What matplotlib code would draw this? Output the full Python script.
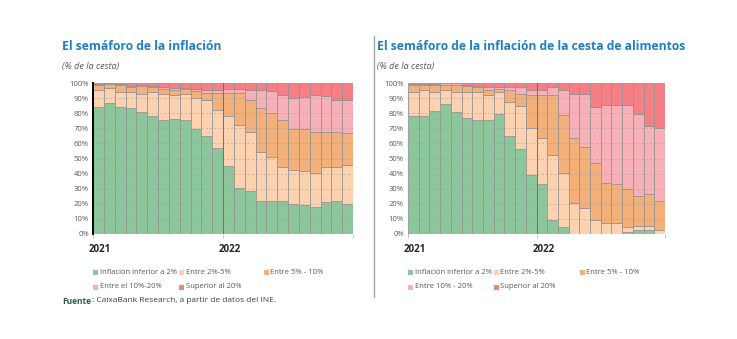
import matplotlib
matplotlib.use("Agg")
import matplotlib.pyplot as plt
import numpy as np

months = list(range(24))  # Jan 2021 .. Dec 2022

# Cumulative tops (% of basket) - General basket
gen_lt2   = [84.1, 86.7, 84.0, 83.2, 80.8, 78.1, 75.7, 76.1, 75.2, 69.5, 65.0, 56.9,
             44.9, 30.3, 28.3, 22.1, 22.1, 22.1, 19.9, 19.0, 17.7, 21.0, 22.1, 19.9]
gen_2_5   = [95.6, 96.7, 93.8, 94.2, 92.9, 93.8, 92.9, 91.8, 92.9, 89.8, 88.5, 81.9,
             77.9, 72.1, 67.5, 54.6, 51.3, 44.7, 42.5, 41.4, 40.7, 44.7, 44.7, 45.8]
gen_5_10  = [98.7, 99.1, 98.7, 97.3, 97.8, 97.1, 96.0, 95.6, 96.0, 94.7, 93.4, 93.4,
             93.4, 93.4, 88.5, 83.4, 80.1, 75.7, 69.5, 69.5, 67.5, 67.5, 67.5, 66.8]
gen_10_20 = [99.6, 99.8, 99.1, 98.0, 98.5, 98.0, 97.6, 96.9, 96.5, 96.0, 95.6, 95.6,
             96.0, 96.0, 95.6, 95.1, 94.5, 92.0, 90.3, 90.7, 92.0, 91.2, 88.9, 88.5]

# Cumulative tops (% of basket) - Food basket
food_lt2   = [78.0, 78.0, 81.3, 85.9, 80.8, 76.9, 75.3, 75.3, 79.7, 65.2, 56.4, 39.0,
              32.8, 9.0, 4.5, 0.0, 0.0, 0.0, 0.0, 0.0, 1.1, 2.6, 2.6, 0.0]
food_2_5   = [94.0, 95.2, 94.0, 95.2, 94.0, 94.0, 94.0, 92.3, 94.0, 87.4, 84.6, 70.5,
              63.7, 52.4, 40.5, 20.3, 17.0, 9.3, 7.5, 7.5, 4.4, 5.5, 5.5, 2.6]
food_5_10  = [98.5, 98.5, 98.5, 98.5, 98.5, 97.8, 97.4, 95.6, 96.3, 95.6, 92.5, 91.9,
              91.9, 91.9, 78.6, 63.9, 57.9, 46.7, 33.9, 32.8, 29.7, 24.9, 26.2, 21.8]
food_10_20 = [99.6, 99.6, 99.5, 100.0, 100.0, 98.5, 97.8, 97.4, 97.4, 97.4, 97.4, 95.2,
              95.2, 97.4, 95.2, 92.5, 92.5, 84.1, 85.7, 85.7, 85.7, 79.7, 71.6, 70.3]

labels_left = ["Inflación inferior a 2%", "Entre 2%-5%", "Entre 5% - 10%",
               "Entre el 10%-20%", "Superior al 20%"]
labels_right = ["Inflación inferior a 2%", "Entre 2%-5%", "Entre 5% - 10%",
                "Entre 10% - 20%", "Superior al 20%"]
year_labels = ["2021", "2022"]
colors = ["#8cc79c", "#fcd2b1", "#f3b07b", "#f8b0b8", "#f57f84"]

W, H = 737, 339
fig = plt.figure(figsize=(W / 100, H / 100), dpi=100)
fig.patch.set_facecolor("white")
plt.rcParams["font.family"] = ["Open Sans", "DejaVu Sans"]


def ax_rect(x0, y0, x1, y1):
    return [x0 / W, 1 - y1 / H, (x1 - x0) / W, (y1 - y0) / H]


def draw(ax, tops, dark_spine):
    tops = [np.array(t) for t in tops] + [np.full(24, 100.0)]
    bottom = np.zeros(24)
    for t, c in zip(tops, colors):
        h = np.clip(t - bottom, 0, None)
        ax.bar(months, h, width=1.0, bottom=bottom, align="edge", color=c,
               edgecolor="#8f8f8f", linewidth=0.5, zorder=2)
        bottom = bottom + h
    ax.set_xlim(0, 24)
    ax.set_ylim(0, 100)
    ax.set_yticks(np.arange(0, 101, 10))
    ax.set_yticklabels([f"{v}%" for v in range(0, 101, 10)], fontsize=5.5,
                       color="#595959")
    ax.yaxis.grid(True, linestyle=(0, (3, 3)), color="#9a9a9a", linewidth=0.5,
                  alpha=0.7, zorder=3)
    ax.set_axisbelow(False)
    ax.set_xticks([0, 12, 24])
    ax.set_xticklabels([])
    ax.tick_params(axis="x", length=3, color="#bfbfbf", width=0.6)
    ax.tick_params(axis="y", length=0, pad=3)
    ax.axvline(12, color="#707070", linewidth=0.7, zorder=4)
    for s in ["top", "right", "bottom"]:
        ax.spines[s].set_visible(False)
    ax.spines["left"].set_color("#000000" if dark_spine else "#a0a0a0")
    ax.spines["left"].set_linewidth(1.4 if dark_spine else 0.8)
    ax.spines["left"].set_zorder(5)
    ax.set_facecolor("white")


axL = fig.add_axes(ax_rect(93, 83, 353, 234))
draw(axL, [gen_lt2, gen_2_5, gen_5_10, gen_10_20], True)
axR = fig.add_axes(ax_rect(408, 83, 665, 234))
draw(axR, [food_lt2, food_2_5, food_5_10, food_10_20], False)

title_col = "#1f7fc4"
fig.text(62 / W, 1 - 46 / H, "El semáforo de la inflación", fontsize=8.7,
         fontweight="bold", color=title_col, va="center", ha="left")
fig.text(377 / W, 1 - 46 / H, "El semáforo de la inflación de la cesta de alimentos",
         fontsize=8.7, fontweight="bold", color=title_col, va="center", ha="left")
fig.text(62 / W, 1 - 66 / H, "(% de la cesta)", fontsize=6.5, style="italic",
         color="#595959", va="center", ha="left")
fig.text(377 / W, 1 - 66 / H, "(% de la cesta)", fontsize=6.5, style="italic",
         color="#595959", va="center", ha="left")

# Year labels
for x0, x1 in [(93, 353), (408, 665)]:
    step = (x1 - x0) / 24
    for i, yl in enumerate(year_labels):
        xp = x0 + i * 12 * step - 4
        fig.text(xp / W, 1 - 249 / H, yl, fontsize=7, fontweight="bold",
                 color="#262626", va="center", ha="left")


def legend(xs_row1, xs_row2, labels):
    pos = [(xs_row1[0], 272), (xs_row1[1], 272), (xs_row1[2], 272),
           (xs_row2[0], 287), (xs_row2[1], 287)]
    for (xp, yp), lab, c in zip(pos, labels, colors):
        fig.patches.append(matplotlib.patches.Rectangle(
            ((xp - 2) / W, 1 - (yp + 2.5) / H), 5 / W, 5 / H,
            transform=fig.transFigure, facecolor=c, edgecolor="none"))
        fig.text((xp + 4.5) / W, 1 - yp / H, lab, fontsize=5.5, color="#595959",
                 va="center", ha="left")


legend([95, 181, 266], [95, 181], labels_left)
legend([410, 496, 582], [410, 496], labels_right)

src = fig.text(62 / W, 1 - 301 / H, "Fuente", fontsize=6, fontweight="bold",
               color="#2e5a4a", va="center", ha="left")
fig.text(0, 0, ": CaixaBank Research, a partir de datos del INE.", fontsize=6,
         color="#404040", va="center", ha="left",
         transform=matplotlib.transforms.offset_copy(fig.transFigure, fig=fig, x=0, y=0))
fig.texts[-1].remove()
fig.canvas.draw()
bb = src.get_window_extent()
fig.text((bb.x1 + 0.5) / W, 1 - 301 / H,
         ": CaixaBank Research, a partir de datos del INE.", fontsize=6,
         color="#404040", va="center", ha="left")

# separator
fig.add_artist(matplotlib.lines.Line2D([374 / W, 374 / W], [1 - 36 / H, 1 - 297 / H],
                                       color="#a6a6a6", linewidth=1.0))

fig.savefig("out.png", dpi=100, facecolor="white")
